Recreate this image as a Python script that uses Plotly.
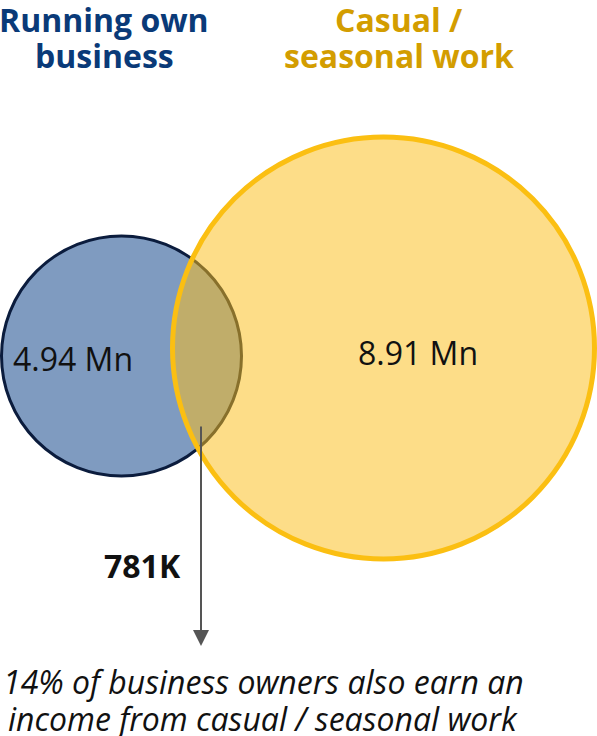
import plotly.graph_objects as go

# ---- data ----
set_names = ["Running own business", "Casual / seasonal work"]
set_title_lines = [["Running own", "business"], ["Casual /", "seasonal work"]]
set_values_mn = [4.94, 8.91]
overlap_value_k = 781
caption_lines = ["14% of business owners also earn an",
                 "income from casual / seasonal work"]

# ---- layout constants (pixel space) ----
W, H = 597, 736
circles = [
    dict(cx=121.5, cy=356, r=120, fill="#7f9bc0", line="#0b1c3d", lw=3),
    dict(cx=383.5, cy=348, r=211, fill="rgba(251,190,26,0.52)", line="#fbbf12", lw=5),
]
title_pos = [(104, [19, 55]), (399, [19, 55])]
title_colors = ["#0a3a78", "#d39d00"]
value_pos = [(73, 358), (418, 352)]
FONT = "Open Sans"

fig = go.Figure()
fig.add_trace(go.Scatter(x=[0, W], y=[0, H], mode="markers",
                         marker=dict(opacity=0), hoverinfo="skip", showlegend=False))

shapes = []
for c in circles:
    shapes.append(dict(type="circle", xref="x", yref="y",
                       x0=c["cx"] - c["r"], x1=c["cx"] + c["r"],
                       y0=c["cy"] - c["r"], y1=c["cy"] + c["r"],
                       fillcolor=c["fill"], line=dict(color=c["line"], width=c["lw"]),
                       layer="above"))

ann = []
for (tx, tys), lines, col in zip(title_pos, set_title_lines, title_colors):
    for ty, line in zip(tys, lines):
        ann.append(dict(x=tx, y=ty, xref="x", yref="y", text=f"<b>{line}</b>",
                        showarrow=False, font=dict(family=FONT, size=32, color=col),
                        xanchor="center", yanchor="middle"))
for (vx, vy), v in zip(value_pos, set_values_mn):
    ann.append(dict(x=vx, y=vy, xref="x", yref="y", text=f"{v:.2f} Mn",
                    showarrow=False, font=dict(family=FONT, size=32, color="#111111"),
                    xanchor="center", yanchor="middle"))

# overlap arrow + label
ann.append(dict(x=201, y=646, xref="x", yref="y", ax=201, ay=425, axref="x", ayref="y",
                text="", showarrow=True, arrowhead=2, arrowsize=1.6, arrowwidth=2,
                arrowcolor="#555555"))
ann.append(dict(x=183, y=565, xref="x", yref="y", text=f"<b>{overlap_value_k}K</b>",
                showarrow=False, font=dict(family=FONT, size=32, color="#111111"),
                xanchor="right", yanchor="middle"))

for ty, line in zip([681, 718], caption_lines):
    ann.append(dict(x=263, y=ty, xref="x", yref="y", text=f"<i>{line}</i>",
                    showarrow=False, font=dict(family=FONT, size=32, color="#111111"),
                    xanchor="center", yanchor="middle"))

fig.update_layout(
    width=W, height=H, margin=dict(l=0, r=0, t=0, b=0),
    paper_bgcolor="white", plot_bgcolor="white",
    xaxis=dict(range=[0, W], visible=False, fixedrange=True),
    yaxis=dict(range=[H, 0], visible=False, fixedrange=True),
    shapes=shapes, annotations=ann, showlegend=False,
)
fig.write_html("out.html")
